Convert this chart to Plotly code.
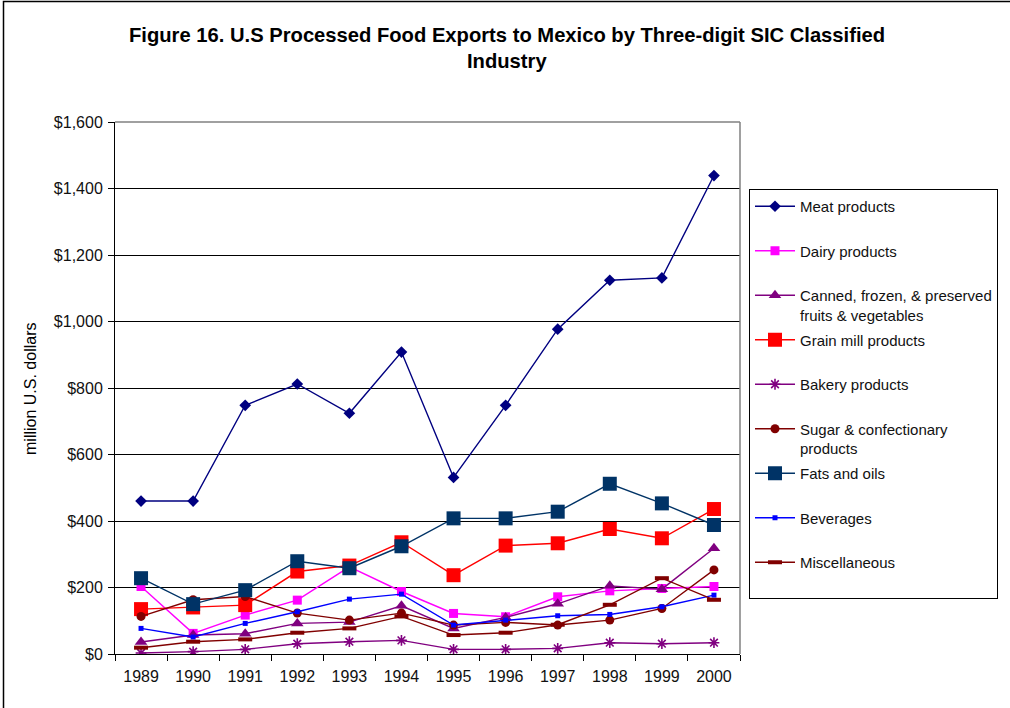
import plotly.graph_objects as go

# Export values, million U.S. dollars
years = ["1989", "1990", "1991", "1992", "1993", "1994",
         "1995", "1996", "1997", "1998", "1999", "2000"]

meat = [460, 460, 748, 812, 724, 908, 531, 748, 977, 1124, 1131, 1439]
dairy = [203, 62, 117, 162, 262, 188, 122, 112, 172, 190, 197, 203]
canned = [36, 57, 61, 92, 96, 145, 77, 110, 151, 205, 195, 318]
grain = [135, 140, 147, 248, 266, 336, 237, 326, 333, 376, 348, 436]
bakery = [3, 7, 14, 31, 37, 41, 14, 14, 17, 34, 31, 34]
sugar = [113, 163, 173, 123, 102, 123, 87, 95, 87, 102, 137, 253]
fats = [228, 150, 192, 279, 258, 324, 408, 408, 428, 512, 453, 388]
beverages = [77, 51, 92, 127, 165, 180, 87, 102, 115, 119, 142, 177]
misc = [19, 37, 44, 64, 77, 113, 57, 64, 88, 148, 228, 163]

y_ticks = [0, 200, 400, 600, 800, 1000, 1200, 1400, 1600]
y_tick_labels = ["$0", "$200", "$400", "$600", "$800",
                 "$1,000", "$1,200", "$1,400", "$1,600"]

FONT = "Liberation Sans, Arial, sans-serif"
PAD = "<br>\u00a0"

series = [
    ("Meat products" + PAD, meat, "#000080",
     dict(symbol="diamond", size=9)),
    ("Dairy products" + PAD, dairy, "#FF00FF",
     dict(symbol="square", size=9)),
    ("Canned, frozen, & preserved<br>fruits & vegetables", canned, "#800080",
     dict(symbol="triangle-up", size=11)),
    ("Grain mill products" + PAD, grain, "#FF0000",
     dict(symbol="square", size=14)),
    ("Bakery products" + PAD, bakery, "#800080",
     dict(symbol="asterisk-open", size=9, line=dict(width=1.6, color="#800080"))),
    ("Sugar & confectionary<br>products", sugar, "#800000",
     dict(symbol="circle", size=9)),
    ("Fats and oils" + PAD, fats, "#003366",
     dict(symbol="square", size=14)),
    ("Beverages" + PAD, beverages, "#0000FF",
     dict(symbol="square", size=5)),
    ("Miscellaneous" + PAD, misc, "#800000",
     dict(symbol="line-ew-open", size=10, line=dict(width=4, color="#800000"))),
]

fig = go.Figure()
for i, (name, vals, color, mk) in enumerate(series):
    marker = dict(color=color)
    marker.update(mk)
    if "line" not in marker:
        marker["line"] = dict(width=0)
    fig.add_trace(go.Scatter(
        x=years, y=vals, name=name, mode="lines+markers",
        line=dict(color=color, width=1.4),
        marker=marker,
        legendgroup=f"g{i}",
    ))

fig.update_layout(
    width=1010, height=708,
    margin=dict(l=115, r=270, t=122, b=54),
    paper_bgcolor="white", plot_bgcolor="white",
    font=dict(family=FONT, size=15, color="#111111"),
    showlegend=True,
    legend=dict(
        x=1.0144, xanchor="left", y=(654 - 189) / 532, yanchor="top",
        bordercolor="#000000", borderwidth=1, bgcolor="white",
        font=dict(family=FONT, size=15, color="#111111"),
        valign="top", tracegroupgap=2.5, itemwidth=40,
    ),
    xaxis=dict(
        type="category", range=[-0.5, 11.5],
        showline=True, linecolor="#000000", linewidth=1,
        ticks="outside", tickson="boundaries", ticklen=6, tickcolor="#000000",
        ticklabelstandoff=8,
        showgrid=False, tickfont=dict(size=16, color="#111111"),
    ),
    yaxis=dict(
        range=[0, 1600], tickvals=y_ticks, ticktext=y_tick_labels,
        showline=True, linecolor="#000000", linewidth=1,
        ticks="outside", ticklen=6, tickcolor="#000000",
        ticklabelstandoff=2,
        showgrid=True, gridcolor="#000000", gridwidth=1, zeroline=False,
        tickfont=dict(size=16, color="#111111"),
    ),
    annotations=[
        dict(text="<b>Figure 16. U.S Processed Food Exports to Mexico by Three-digit SIC Classified</b>",
             xref="paper", yref="paper", x=(507 - 115) / 625, y=(654 - 35) / 532,
             xanchor="center", yanchor="middle", showarrow=False,
             font=dict(family=FONT, size=20.2, color="#000000")),
        dict(text="<b>Industry</b>",
             xref="paper", yref="paper", x=(507 - 115) / 625, y=(654 - 61) / 532,
             xanchor="center", yanchor="middle", showarrow=False,
             font=dict(family=FONT, size=20.2, color="#000000")),
        dict(text="million U.S. dollars", textangle=-90,
             xref="paper", yref="paper", x=(30 - 115) / 625, y=(654 - 389) / 532,
             xanchor="center", yanchor="middle", showarrow=False,
             font=dict(family=FONT, size=16, color="#000000")),
    ],
    shapes=[
        # plot area border (top and right)
        dict(type="line", xref="paper", yref="paper", x0=0, x1=1, y0=1, y1=1,
             line=dict(color="#808080", width=1.5), layer="above"),
        dict(type="line", xref="paper", yref="paper", x0=1, x1=1, y0=0, y1=1,
             line=dict(color="#808080", width=1.5), layer="above"),
        # outer chart frame
        dict(type="rect", xref="paper", yref="paper",
             x0=(3.5 - 115) / 625, x1=1.5, y0=-0.3, y1=(654 - 1.5) / 532,
             line=dict(color="#000000", width=1.5), fillcolor="rgba(0,0,0,0)",
             layer="below"),
    ],
)

fig.write_html("out.html")
